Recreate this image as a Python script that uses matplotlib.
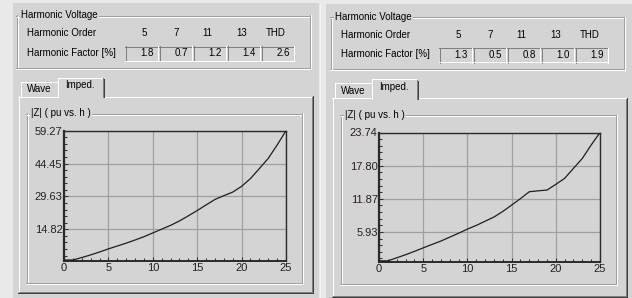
import matplotlib
matplotlib.use('Agg')
import matplotlib.pyplot as plt
from matplotlib.patches import Rectangle

W, H = 632, 298

# ---------------- data ----------------
harm_orders = ['5', '7', '11', '13', 'THD']
factors_left = ['1.8', '0.7', '1.2', '1.4', '2.6']
factors_right = ['1.3', '0.5', '0.8', '1.0', '1.9']

h = list(range(26))
z_left = [1.0, 1.0, 2.1, 3.3, 4.6, 6.0, 7.3, 8.6, 10.0, 11.5, 13.2, 14.9, 16.6,
          18.6, 20.9, 23.3, 25.8, 28.3, 30.0, 31.6, 34.2, 37.7, 42.2, 46.8, 52.8, 59.27]
z_right = [0.76, 0.76, 1.3, 1.85, 2.45, 3.08, 3.7, 4.3, 5.0, 5.7, 6.44, 7.1, 7.85,
           8.6, 9.6, 10.74, 11.9, 13.13, 13.3, 13.43, 14.45, 15.53, 17.32, 19.1, 21.5, 23.74]

ytick_left = ['14.82', '29.63', '44.45', '59.27']
ytick_right = ['5.93', '11.87', '17.80', '23.74']
xtick_labels = ['0', '5', '10', '15', '20', '25']

# ---------------- style ----------------
GRAY = '#d4d4d4'
LIGHT = '#e9e9e9'
DARK = '#808080'
DARKER = '#404040'
WHITE = '#ffffff'
ETCH = '#a0a0a0'
FONT = 'Liberation Sans'
LW = 0.6

fig = plt.figure(figsize=(W / 100, H / 100), dpi=100, facecolor=LIGHT)
bg = fig.add_axes([0, 0, 1, 1])
bg.set_xlim(0, W)
bg.set_ylim(H, 0)
bg.axis('off')
bg.set_zorder(0)


def hl(x0, x1, y, c):
    bg.plot([x0, x1 + 1], [y + 0.5, y + 0.5], color=c, lw=LW,
            solid_capstyle='butt', antialiased=False)


def vl(x, y0, y1, c):
    bg.plot([x + 0.5, x + 0.5], [y0, y1 + 1], color=c, lw=LW,
            solid_capstyle='butt', antialiased=False)


def rect_fill(x0, y0, x1, y1, c):
    bg.add_patch(Rectangle((x0, y0), x1 - x0, y1 - y0, fc=c, ec='none'))


def etched(x0, y0, x1, y1):
    hl(x0, x1, y0, ETCH); vl(x0, y0, y1, ETCH)
    hl(x0, x1, y1, ETCH); vl(x1, y0, y1, ETCH)
    hl(x0 + 1, x1 - 1, y0 + 1, WHITE); vl(x0 + 1, y0 + 1, y1 - 1, WHITE)
    hl(x0, x1 + 1, y1 + 1, WHITE); vl(x1 + 1, y0, y1 + 1, WHITE)


def sunken(x0, y0, x1, y1):
    hl(x0, x1, y0, DARK); vl(x0, y0, y1, DARK)
    hl(x0, x1, y1, WHITE); vl(x1, y0, y1, WHITE)


def txt(x, y, s, ha='left', size=7, **kw):
    bg.text(x, y, s, ha=ha, va='center', fontsize=size, family=FONT,
            color='black', **kw)


def panel(dx, dy, factors, tab_bottom, ax_box, z, ytop, ylabels, bx1):
    # group box "Harmonic Voltage"
    etched(16 + dx, 15 + dy, 309 + dx, 67 + dy)
    txt(21 + dx, 15.5 + dy, 'Harmonic Voltage',
        bbox=dict(fc=GRAY, ec='none', pad=0.6))
    txt(27 + dx, 33 + dy, 'Harmonic Order')
    txt(27 + dx, 52.5 + dy, 'Harmonic Factor [%]')
    lefts = [125, 159, 193, 227, 261]
    label_x = [144, 176, 207.5, 242, 276]
    for i, lx in enumerate(lefts):
        x0 = lx + dx
        sunken(x0, 46 + dy, x0 + 32, 60 + dy)
        txt(label_x[i] + dx, 33 + dy, harm_orders[i], ha='center')
        txt(x0 + 29, 53 + dy, factors[i], ha='right')
    # tab panel
    L, R, T, B = 18 + dx, 312 + dx, 96 + dy, tab_bottom
    sx0, sx1 = 57 + dx, 103 + dx
    hl(L, sx0, T, WHITE); hl(sx1, R, T, WHITE)
    vl(L, T, B, WHITE)
    vl(R - 1, T + 1, B - 1, DARK); vl(R, T, B, DARKER)
    hl(L + 1, R - 1, B - 1, DARK); hl(L, R, B, DARKER)
    # unselected tab "Wave"
    vl(20 + dx, 82 + dy, T - 1, WHITE); hl(21 + dx, sx0 - 1, 81 + dy, WHITE)
    txt(39 + dx, 89 + dy, 'Wave', ha='center')
    # selected tab "Imped."
    vl(sx0, 78 + dy, T, WHITE); hl(sx0 + 1, sx1 - 2, 77 + dy, WHITE)
    vl(sx1 - 1, 78 + dy, T, DARK); vl(sx1, 79 + dy, T, DARKER)
    txt(80 + dx, 85.5 + dy, 'Imped.', ha='center')
    # inner group box
    etched(26 + dx, 113 + dy, 301 + dx, bx1)
    txt(31 + dx, 113.5 + dy, '|Z| ( pu vs. h )',
        bbox=dict(fc=GRAY, ec='none', pad=0.6))

    # chart
    x0, y0, x1, y1 = ax_box
    ax = fig.add_axes([x0 / W, 1 - y1 / H, (x1 - x0) / W, (y1 - y0) / H])
    ax.set_zorder(2)
    ax.set_facecolor(GRAY)
    ax.plot(h, z, color='#1e1e1e', lw=0.9, zorder=3)
    ymin = 0.55
    ax.set_xlim(0, 25)
    ax.set_ylim(ymin, ytop)
    ax.set_xticks([0, 5, 10, 15, 20, 25])
    ax.set_xticklabels(xtick_labels)
    ax.set_xticks(h, minor=True)
    yt = [ytop * k / 4 for k in range(1, 5)]
    ax.set_yticks(yt)
    ax.set_yticklabels(ylabels)
    ax.set_yticks([ytop - ytop * k / 20 for k in range(20) if ytop - ytop * k / 20 > ymin],
                  minor=True)
    ax.grid(True, which='major', color=ETCH, lw=0.9)
    ax.set_axisbelow(True)
    ax.tick_params(which='both', direction='in', top=False, right=False,
                   color='#303030', width=0.75)
    ax.tick_params(which='major', length=3)
    ax.tick_params(which='minor', length=2.5)
    ax.tick_params(axis='x', pad=1.5, labelsize=8, labelcolor='#2a1f1f')
    ax.tick_params(axis='y', pad=1, labelsize=8, labelcolor='#2a1f1f')
    for lab in ax.get_xticklabels() + ax.get_yticklabels():
        lab.set_family(FONT)
    for s in ax.spines.values():
        s.set_color('#2a2a2a')
        s.set_linewidth(1.0)
    ax.spines['left'].set_linewidth(1.6)
    ax.spines['bottom'].set_linewidth(1.4)
    return ax


# panel backgrounds
rect_fill(13, 3, 319, H, GRAY)
rect_fill(326, 4, W, H, GRAY)
vl(319, 3, H, '#f4f4f4')

panel(0, 0, factors_left, 292, (64, 130.7, 286, 261), z_left, 59.27, ytick_left, 282)
panel(314, 1.5, factors_right, 296, (379, 132.5, 600, 262), z_right, 23.74, ytick_right, 283)

fig.savefig('out.png', dpi=100, facecolor=LIGHT)
